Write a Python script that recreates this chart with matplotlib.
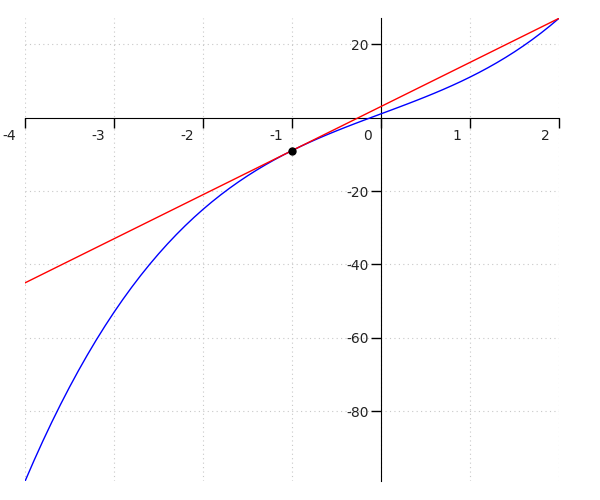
import matplotlib
matplotlib.use("Agg")
import matplotlib.pyplot as plt

# curve samples
curve_x = [-4.0, -3.9, -3.8, -3.7, -3.6, -3.5, -3.4, -3.3, -3.2, -3.1,
           -3.0, -2.9, -2.8, -2.7, -2.6, -2.5, -2.4, -2.3, -2.2, -2.1,
           -2.0, -1.9, -1.8, -1.7, -1.6, -1.5, -1.4, -1.3, -1.2, -1.1,
           -1.0, -0.9, -0.8, -0.7, -0.6, -0.5, -0.4, -0.3, -0.2, -0.1,
           0.0, 0.1, 0.2, 0.3, 0.4, 0.5, 0.6, 0.7, 0.8, 0.9,
           1.0, 1.1, 1.2, 1.3, 1.4, 1.5, 1.6, 1.7, 1.8, 1.9, 2.0]
curve_y = [-99.0, -93.419, -88.072, -82.953, -78.056, -73.375, -68.904, -64.637, -60.568, -56.691,
           -53.0, -49.489, -46.152, -42.983, -39.976, -37.125, -34.424, -31.867, -29.448, -27.161,
           -25.0, -22.959, -21.032, -19.213, -17.496, -15.875, -14.344, -12.897, -11.528, -10.231,
           -9.0, -7.829, -6.712, -5.643, -4.616, -3.625, -2.664, -1.727, -0.808, 0.099,
           1.0, 1.901, 2.808, 3.727, 4.664, 5.625, 6.616, 7.643, 8.712, 9.829,
           11.0, 12.231, 13.528, 14.897, 16.344, 17.875, 19.496, 21.213, 23.032, 24.959, 27.0]
tangent_x = [-4, 2]
tangent_y = [-45, 27]
point_x = [-1]
point_y = [-9]
x_ticks = [-4, -3, -2, -1, 0, 1, 2]
x_tick_labels = ["-4", "-3", "-2", "-1", "0", "1", "2"]
y_ticks = [20, -20, -40, -60, -80]
y_tick_labels = ["20", "-20", "-40", "-60", "-80"]

fig = plt.figure(figsize=(6, 5), dpi=100)
ax = fig.add_axes([25/600, 1 - 481.3/500, 534/600, 463/500])
ax.set_xlim(-4, 2)
ax.set_ylim(-99, 27)

grid_kw = dict(color="#c8c8c8", lw=0.8, ls=(0, (1, 3)), zorder=0)
for gx in x_ticks:
    ax.axvline(gx, **grid_kw)
for gy in y_ticks:
    ax.axhline(gy, **grid_kw)

ax.plot(curve_x, curve_y, color="#0000ff", lw=1, zorder=3)
ax.plot(tangent_x, tangent_y, color="#ff0000", lw=1, zorder=3)
ax.plot(point_x, point_y, "o", color="black", ms=5, zorder=4)

for s in ["top", "right"]:
    ax.spines[s].set_visible(False)
ax.spines["left"].set_position(("data", 0))
ax.spines["bottom"].set_position(("data", 0))
ax.spines["left"].set_color("black")
ax.spines["bottom"].set_color("black")

ax.set_xticks(x_ticks)
ax.set_xticklabels([])
ax.tick_params(axis="x", direction="out", length=7, width=1, labelbottom=False)
ax.set_yticks(y_ticks)
ax.set_yticklabels(y_tick_labels, fontsize=10, color="#222222")
ax.tick_params(axis="y", direction="out", length=7, width=1, pad=2)

for tx, tl in zip(x_ticks, x_tick_labels):
    ax.annotate(tl, xy=(tx, 0), xycoords="data", xytext=(-6.5, -8),
                textcoords="offset points", ha="right", va="top",
                fontsize=10, color="#222222")

fig.savefig("out.png", dpi=100)
